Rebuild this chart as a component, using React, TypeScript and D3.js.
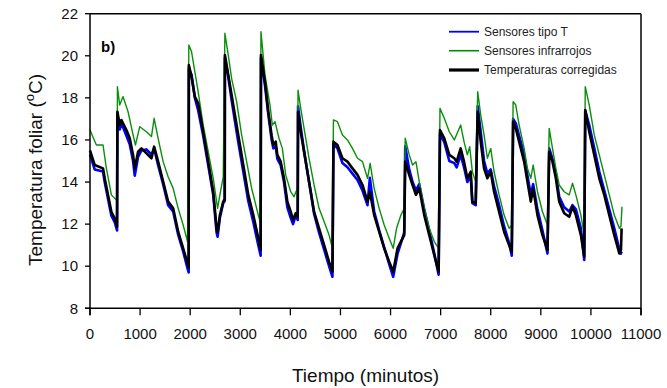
import React from "react";
import * as d3 from "d3";

// ---- Data ----
const timeCorr = [0,93,260,293,427,493,540,547,593,627,727,793,860,893,960,1027,1127,1227,1280,1360,1460,1560,1660,1760,1860,1947,1970,1973,2027,2093,2160,2260,2360,2460,2527,2547,2593,2660,2690,2693,2760,2827,2893,2960,3060,3160,3260,3360,3407,3413,3493,3560,3627,3660,3707,3740,3807,3873,3940,4007,4053,4107,4147,4153,4207,4273,4340,4407,4473,4573,4673,4773,4840,4860,4940,5040,5140,5240,5340,5440,5540,5587,5673,5773,5873,5973,6053,6140,6207,6273,6293,6373,6440,6507,6573,6673,6773,6873,6960,6987,7073,7173,7273,7320,7400,7467,7533,7600,7633,7700,7740,7800,7867,7933,8000,8067,8167,8267,8367,8420,8447,8500,8567,8667,8733,8800,8847,8933,9033,9133,9167,9233,9300,9367,9467,9567,9633,9700,9800,9867,9887,9967,10067,10167,10267,10367,10467,10567,10600,10613];

const corrected = [15.5,14.81,14.65,14.18,12.59,12.28,11.88,17.34,16.71,16.95,16.47,16.08,15.29,14.65,15.44,15.6,15.37,15.13,15.68,14.97,14.02,13.07,12.75,11.64,10.85,10.14,9.95,19.56,19.0,18.06,17.74,16.39,14.97,13.54,11.8,11.6,12.43,13.07,13.2,20.04,19.09,18.14,17.19,16.24,14.81,13.39,12.43,11.33,10.77,20.04,18.77,17.34,16.2,15.76,15.92,15.29,14.97,14.18,13.07,12.59,12.2,12.52,12.35,17.34,16.39,15.44,14.49,13.54,12.59,11.8,11.01,10.21,9.74,15.92,15.76,15.13,14.97,14.65,14.34,13.86,13.07,13.54,12.43,11.64,10.85,10.21,9.74,10.85,11.17,11.48,14.97,14.34,13.86,13.39,13.7,12.43,11.48,10.53,9.74,16.47,16.08,15.29,15.13,14.97,15.6,14.97,14.18,14.49,13.07,12.99,17.34,15.92,14.65,14.18,14.49,13.54,12.59,11.64,11.01,10.69,16.87,16.55,15.92,14.97,14.02,13.07,13.7,12.43,11.48,10.77,15.44,14.97,14.18,13.07,12.52,12.35,12.83,12.43,11.48,10.45,17.42,16.39,15.29,14.18,13.39,12.43,11.48,10.61,10.77,11.8];

const sensorT = [15.3,14.6,14.5,14.0,12.4,12.1,11.7,17.2,16.5,16.8,16.2,15.8,15.0,14.3,15.2,15.5,15.55,15.3,15.6,14.8,13.9,12.9,12.6,11.5,10.7,9.9,9.7,19.4,19.1,18.0,17.4,16.2,14.8,13.4,11.6,11.4,12.3,13.0,13.1,19.9,19.0,17.9,16.9,15.9,14.5,13.1,12.1,11.0,10.5,19.9,18.6,17.2,16.0,15.6,15.7,15.1,14.8,14.0,12.8,12.3,12.0,12.4,12.2,17.6,16.6,15.5,14.5,13.5,12.5,11.6,10.8,10.0,9.5,15.8,15.6,14.9,14.7,14.4,14.1,13.6,12.9,14.2,12.6,11.7,10.9,10.1,9.5,10.6,11.1,11.6,15.7,14.6,14.0,13.6,13.9,12.7,11.7,10.6,9.6,16.3,15.9,15.0,14.9,14.7,15.3,14.7,14.0,14.3,13.0,12.9,17.6,16.4,15.0,14.4,14.6,13.8,12.9,11.9,11.1,10.5,17.0,16.8,16.2,15.3,14.3,13.4,13.9,12.7,11.7,10.6,15.6,15.1,14.4,13.3,12.8,12.6,12.9,12.7,11.8,10.3,17.4,16.7,15.6,14.5,13.6,12.7,11.8,10.8,10.6,10.7];

const timeIR = [0,127,260,327,427,527,545,547,593,660,760,860,907,993,1127,1227,1280,1360,1460,1560,1660,1760,1860,1947,1973,2027,2093,2160,2260,2360,2460,2547,2593,2660,2693,2760,2827,2927,3027,3127,3227,3327,3393,3413,3493,3593,3640,3693,3773,3840,3907,4007,4073,4140,4153,4207,4307,4373,4473,4573,4673,4773,4840,4860,4940,5040,5140,5240,5340,5440,5540,5593,5673,5773,5873,5973,6053,6120,6207,6273,6293,6373,6440,6507,6573,6673,6773,6873,6960,6987,7073,7173,7273,7400,7467,7533,7580,7633,7700,7740,7800,7867,7933,8000,8067,8167,8267,8367,8420,8447,8500,8567,8667,8733,8800,8847,8933,9033,9133,9167,9233,9300,9367,9467,9567,9633,9700,9800,9867,9887,9967,10067,10167,10267,10367,10467,10567,10600,10620];

const infrared = [16.47,15.76,15.76,14.65,13.39,13.15,12.9,18.53,17.66,18.06,17.34,16.24,15.76,16.63,16.39,16.16,17.03,16.08,14.97,14.25,13.7,12.75,11.96,11.17,20.51,20.2,19.25,18.29,16.71,15.44,14.18,12.75,13.39,14.25,21.07,20.04,18.93,17.82,16.24,14.97,13.7,12.75,12.12,21.15,19.09,17.66,16.71,16.87,16.08,15.6,14.34,13.54,13.3,13.7,18.37,17.5,16.08,15.13,13.86,12.75,12.12,11.48,10.85,16.95,16.87,16.24,16.0,15.6,15.13,14.97,14.18,14.89,13.7,12.75,11.96,11.33,10.85,11.8,12.43,12.75,16.08,15.29,14.81,14.97,14.02,12.75,11.8,11.17,10.85,17.5,17.03,16.39,16.0,16.71,15.92,15.29,15.68,14.49,14.02,18.29,17.19,16.24,15.13,15.6,14.49,13.39,12.43,11.8,11.96,17.82,17.66,16.71,15.6,14.65,14.18,14.81,13.54,12.59,11.96,16.55,15.6,14.65,13.86,13.54,13.39,13.94,13.39,12.43,11.48,18.53,17.66,16.24,15.29,14.34,13.39,12.43,11.8,11.9,12.83];

const yTicks = [8, 10, 12, 14, 16, 18, 20, 22];
const xTicks = [0, 1000, 2000, 3000, 4000, 5000, 6000, 7000, 8000, 9000, 10000, 11000];
const legendLabels = ["Sensores tipo T", "Sensores infrarrojos", "Temperaturas corregidas"];
const legendColors = ["#0000ff", "#008c00", "#000000"];

const W = 667, H = 388;
const left = 90, right = 641, top = 13.7, bottom = 308.3;
const FONT = "'Liberation Sans', Arial, Helvetica, sans-serif";

export default function App() {
  const x = d3.scaleLinear().domain([0, 11000]).range([left, right]);
  const y = d3.scaleLinear().domain([8, 22]).range([bottom, top]);

  const mk = (ts: number[], vs: number[]) =>
    d3.line<number>().x((_, i) => x(ts[i])).y((v) => y(v))(vs) || "";

  const blueP = mk(timeCorr, sensorT);
  const blackP = mk(timeCorr, corrected);
  const greenP = mk(timeIR, infrared);

  const legendY = [31.7, 50.7, 70];
  const legendW = [1.8, 1.6, 3.2];

  return (
    <svg width={W} height={H} style={{ position: "fixed", left: 0, top: 0, background: "#fff" }} fontFamily={FONT}>
      <rect x={0} y={0} width={W} height={H} fill="#fff" />
      {/* data */}
      <path d={blueP} fill="none" stroke="#0000ff" strokeWidth={2.6} strokeLinejoin="round" />
      <path d={greenP} fill="none" stroke="#0a8f0a" strokeWidth={1.4} strokeLinejoin="round" />
      <path d={blackP} fill="none" stroke="#000" strokeWidth={2.6} strokeLinejoin="round" />

      {/* frame */}
      <line x1={left} x2={right} y1={top} y2={top} stroke="#000" strokeWidth={1.5} />
      <line x1={right} x2={right} y1={top} y2={bottom + 7} stroke="#000" strokeWidth={1.5} />
      <line x1={left} x2={left} y1={top} y2={bottom + 7} stroke="#000" strokeWidth={1.5} />
      <line x1={left - 5} x2={right} y1={bottom} y2={bottom} stroke="#000" strokeWidth={1.5} />

      {/* y ticks */}
      {yTicks.map((t) => (
        <g key={"y" + t}>
          <line x1={left - 5} x2={left} y1={y(t)} y2={y(t)} stroke="#000" strokeWidth={1.3} />
          <text x={78} y={y(t)} dy="0.35em" textAnchor="end" fontSize={15} fill="#111">{t}</text>
        </g>
      ))}
      {/* x ticks */}
      {xTicks.map((t) => (
        <g key={"x" + t}>
          <line x1={x(t)} x2={x(t)} y1={bottom} y2={bottom + 7} stroke="#000" strokeWidth={1.3} />
          <text x={x(t)} y={339} textAnchor="middle" fontSize={15} fill="#111">{t}</text>
        </g>
      ))}

      {/* axis titles */}
      <text x={(left + right) / 2} y={382} textAnchor="middle" fontSize={19} fill="#111">Tiempo (minutos)</text>
      <text transform={`translate(41.5, 170) rotate(-90)`} textAnchor="middle" fontSize={19} fill="#111">
        Temperatura foliar (<tspan fontSize={13} dy={-8}>o</tspan><tspan dy={8}>C)</tspan>
      </text>

      <text x={101} y={52} fontSize={15} fontWeight="bold" fill="#000">b)</text>

      {/* legend */}
      {legendLabels.map((l, i) => (
        <g key={l}>
          <line x1={449} x2={479} y1={legendY[i]} y2={legendY[i]} stroke={legendColors[i]} strokeWidth={legendW[i]} />
          <text x={484} y={legendY[i]} dy="0.35em" fontSize={12} fill="#222">{l}</text>
        </g>
      ))}
    </svg>
  );
}
